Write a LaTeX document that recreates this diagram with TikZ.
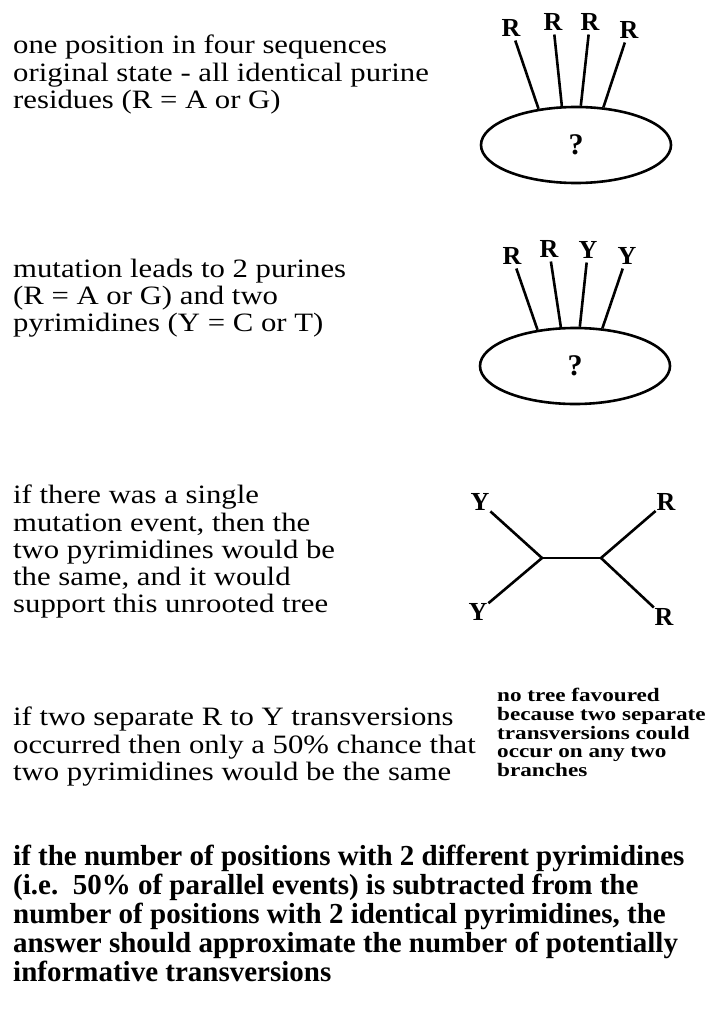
\documentclass[tikz,border=0pt]{standalone}
\usepackage{fontspec}
\setmainfont{Liberation Serif}
\newfontfamily\bodyfont{Liberation Serif}[FakeStretch=1.16]
\newfontfamily\notefont{Liberation Serif}[FakeStretch=1.22]
\usetikzlibrary{shapes.geometric}
\tikzset{
  txt/.style={anchor=north west, inner sep=0pt, align=left,
              font=\bodyfont\fontsize{26.5}{27.2}\selectfont},
  note/.style={anchor=north west, inner sep=0pt, align=left,
               font=\notefont\bfseries\fontsize{19}{18.8}\selectfont},
  summary/.style={anchor=north west, inner sep=0pt, align=left,
                  font=\bfseries\fontsize{29}{29}\selectfont},
  pool/.style={ellipse, draw, line width=2.6pt, minimum width=190pt,
               minimum height=76pt, inner sep=0pt,
               font=\bfseries\fontsize{30}{30}\selectfont},
  base/.style={font=\bfseries\fontsize{26}{26}\selectfont,
               inner sep=1pt, outer sep=3pt},
  leaf/.style={base, outer sep=0pt},
  stem/.style={line width=2.6pt},
}

\begin{document}
\begin{tikzpicture}[x=1pt, y=-1pt]
  \useasboundingbox (0,0) rectangle (708,1022);
  %% texts on the left
  \node[txt] (t1) at (13,35) {one position in four sequences\\original state - all identical purine\\residues (R = A or G)};
  \node[txt] (t2) at (13,259) {mutation leads to 2 purines\\(R = A or G) and two\\pyrimidines (Y = C or T)};
  \node[txt] (t3) at (13,485) {if there was a single\\mutation event, then the\\two pyrimidines would be\\the same, and it would\\support this unrooted tree};
  \node[txt] (t4) at (13,707) {if two separate R to Y transversions\\occurred then only a 50\% chance that\\two pyrimidines would be the same};
  \node[note] (nt) at (497,688) {no tree favoured\\because two separate\\transversions could\\occur on any two\\branches};
  \node[summary] (sm) at (13,845) {if the number of positions with 2 different pyrimidines\\(i.e.\ \ 50\% of parallel events) is subtracted from the\\number of positions with 2 identical pyrimidines, the\\answer should approximate the number of potentially\\informative transversions};
  %% original state
  \node[pool] (p1) at (576,145) {?};
  \node[base] (a1) at (511,28) {R};
  \node[base] (a2) at (553,22) {R};
  \node[base] (a3) at (590,22) {R};
  \node[base] (a4) at (629,30) {R};
  %% after mutation
  \node[pool] (p2) at (575,366) {?};
  \node[base] (b1) at (512,256) {R};
  \node[base] (b2) at (549,249) {R};
  \node[base] (b3) at (588,250) {Y};
  \node[base] (b4) at (627,256) {Y};
  \foreach \p/\s in {p1/a,p2/b}
    \foreach \i/\ang in {1/136,2/110,3/83,4/54}
      \draw[stem] (\p.\ang) -- (\s\i);
  %% unrooted tree
  \coordinate (j1) at (542,558);
  \coordinate (j2) at (601,558);
  \node[leaf] (y1) at (480,502) {Y};
  \node[leaf] (y2) at (478,612) {Y};
  \node[leaf] (r1) at (666,502) {R};
  \node[leaf] (r2) at (664,617) {R};
  \draw[stem] (j1) -- (j2);
  \draw[stem] (j1) -- (y1);
  \draw[stem] (j1) -- (y2);
  \draw[stem] (j2) -- (r1);
  \draw[stem] (j2) -- (r2);
\end{tikzpicture}
\end{document}
